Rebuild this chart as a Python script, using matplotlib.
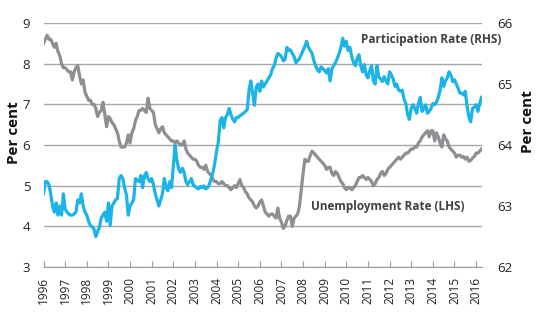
import numpy as np
import matplotlib.pyplot as plt

plt.rcParams['font.family'] = ['Open Sans', 'DejaVu Sans']

# monthly observations, Jan 1996 onwards
unemployment = [
    8.5, 8.6, 8.7, 8.6, 8.6, 8.5, 8.4, 8.5, 8.3, 8.2, 8.0, 7.9,          # 1996
    7.9, 7.85, 7.8, 7.8, 7.6, 7.8, 7.9, 7.95, 7.7, 7.5, 7.6, 7.3,       # 1997
    7.2, 7.1, 7.1, 7.0, 7.0, 6.9, 6.7, 6.8, 6.85, 7.05, 6.75, 6.45,     # 1998
    6.7, 6.65, 6.55, 6.5, 6.4, 6.3, 6.1, 5.95, 5.95, 5.95, 6.05, 6.25,  # 1999
    6.05, 6.3, 6.4, 6.6, 6.7, 6.85, 6.85, 6.9, 6.85, 6.8, 7.15, 6.9,    # 2000
    6.85, 6.8, 6.5, 6.4, 6.3, 6.4, 6.45, 6.3, 6.25, 6.2, 6.15, 6.1,     # 2001
    6.1, 6.05, 6.1, 6.05, 6.0, 6.0, 6.1, 5.9, 5.8, 5.75, 5.7, 5.65,     # 2002
    5.65, 5.6, 5.5, 5.45, 5.45, 5.4, 5.5, 5.35, 5.3, 5.25, 5.15, 5.1,   # 2003
    5.1, 5.05, 5.05, 5.1, 5.05, 5.0, 5.0, 4.95, 4.9, 4.95, 5.0, 4.95,   # 2004
    5.05, 5.15, 5.0, 4.95, 4.85, 4.8, 4.7, 4.65, 4.6, 4.5, 4.45, 4.5,   # 2005
    4.6, 4.65, 4.5, 4.35, 4.3, 4.25, 4.3, 4.3, 4.25, 4.2, 4.45, 4.2,    # 2006
    4.1, 3.95, 4.0, 4.15, 4.25, 4.25, 4.0, 4.2, 4.25, 4.3, 4.5, 4.9,    # 2007
    5.3, 5.65, 5.6, 5.6, 5.75, 5.85, 5.8, 5.75, 5.7, 5.65, 5.6, 5.55,   # 2008
    5.5, 5.4, 5.45, 5.45, 5.3, 5.25, 5.35, 5.3, 5.2, 5.1, 5.05, 4.95,   # 2009
    4.9, 4.95, 4.95, 4.9, 4.95, 5.0, 5.1, 5.2, 5.2, 5.25, 5.2, 5.15,    # 2010
    5.2, 5.15, 5.1, 5.0, 5.05, 5.15, 5.2, 5.3, 5.35, 5.25, 5.3, 5.4,    # 2011
    5.45, 5.5, 5.55, 5.6, 5.65, 5.7, 5.65, 5.7, 5.75, 5.8, 5.8, 5.85,   # 2012
    5.9, 5.9, 5.95, 5.95, 6.05, 6.1, 6.2, 6.25, 6.3, 6.35, 6.2, 6.35,   # 2013
    6.35, 6.1, 6.3, 6.2, 6.05, 5.95, 6.25, 6.15, 6.1, 5.95, 5.9, 5.85,  # 2014
    5.8, 5.7, 5.75, 5.75, 5.7, 5.72, 5.65, 5.7, 5.6, 5.62, 5.68, 5.72,  # 2015
    5.8, 5.8, 5.85, 5.9,                                                # 2016
]

participation = [
    63.2, 63.4, 63.4, 63.35, 63.2, 63.0, 62.9, 63.05, 62.85, 63.0, 62.85, 63.2,        # 1996
    62.95, 62.9, 62.87, 62.85, 62.85, 62.87, 62.9, 63.1, 63.05, 63.2, 63.0, 62.9,      # 1997
    62.85, 62.75, 62.68, 62.66, 62.62, 62.5, 62.58, 62.65, 62.8, 62.85, 62.9, 62.75,   # 1998
    63.05, 62.68, 63.0, 63.05, 63.1, 63.12, 63.45, 63.5, 63.45, 63.3, 63.18, 62.85,    # 1999
    63.0, 63.05, 63.1, 63.45, 63.42, 63.4, 63.5, 63.3, 63.5, 63.55, 63.45, 63.4,       # 2000
    63.45, 63.35, 63.2, 63.1, 63.0, 63.1, 63.2, 63.45, 63.3, 63.25, 63.4, 63.3,        # 2001
    63.65, 64.0, 63.75, 63.6, 63.55, 63.62, 63.55, 63.4, 63.35, 63.4, 63.45, 63.35,    # 2002
    63.32, 63.3, 63.28, 63.32, 63.3, 63.33, 63.28, 63.3, 63.35, 63.45, 63.55, 63.7,    # 2003
    63.9, 64.05, 64.4, 64.45, 64.28, 64.45, 64.5, 64.6, 64.5, 64.42, 64.38, 64.45,     # 2004
    64.45, 64.48, 64.5, 64.52, 64.55, 64.58, 64.9, 65.05, 64.85, 64.65, 64.95, 65.0,   # 2005
    64.88, 65.05, 64.95, 65.0, 65.05, 65.1, 65.15, 65.25, 65.3, 65.42, 65.5, 65.48,    # 2006
    65.45, 65.38, 65.4, 65.6, 65.55, 65.56, 65.5, 65.45, 65.35, 65.38, 65.42, 65.48,   # 2007
    65.55, 65.62, 65.7, 65.6, 65.55, 65.5, 65.38, 65.3, 65.23, 65.2, 65.28, 65.25,     # 2008
    65.22, 65.18, 65.25, 65.05, 65.25, 65.3, 65.35, 65.42, 65.5, 65.6, 65.75, 65.62,   # 2009
    65.7, 65.55, 65.6, 65.45, 65.35, 65.3, 65.42, 65.48, 65.3, 65.2, 65.32, 65.15,     # 2010
    65.1, 65.22, 65.3, 65.05, 65.0, 65.3, 65.12, 65.08, 65.04, 65.12, 65.05, 65.0,     # 2011
    65.2, 65.15, 65.08, 64.96, 65.0, 64.9, 64.88, 64.9, 64.75, 64.68, 64.5, 64.42,     # 2012
    64.6, 64.66, 64.6, 64.52, 64.68, 64.78, 64.55, 64.6, 64.66, 64.52, 64.55, 64.6,    # 2013
    64.68, 64.66, 64.7, 64.78, 64.9, 65.1, 64.96, 65.05, 65.1, 65.2, 65.15, 65.04,     # 2014
    65.07, 65.0, 64.93, 64.85, 64.85, 64.82, 64.88, 64.63, 64.46, 64.38, 64.6, 64.62,  # 2015
    64.66, 64.55, 64.68, 64.78,                                                        # 2016
]

years = list(range(1996, 2017))
months = 1996 + np.arange(len(unemployment)) / 12.0

grey = '#8e8f92'
blue = '#1cb4e8'
text_col = '#404040'

fig = plt.figure(figsize=(5.4, 3.23), dpi=100)
ax = fig.add_axes([0.0806, 0.1734, 0.8111, 0.7554])
ax2 = ax.twinx()

ax.plot(months, unemployment, color=grey, lw=2.3, solid_joinstyle='round')
ax2.plot(months, participation, color=blue, lw=2.3, solid_joinstyle='round')

ax.set_xlim(1996, months[-1])
ax.set_ylim(3, 9)
ax2.set_ylim(62, 66)
ax.set_yticks(range(3, 10))
ax2.set_yticks(range(62, 67))
ax.set_xticks(years)
ax.set_xticklabels([str(y) for y in years], rotation=90, fontsize=8.5, color='#222222')

for a in (ax, ax2):
    for s in ('top', 'left', 'right', 'bottom'):
        a.spines[s].set_visible(False)
ax.spines['bottom'].set_visible(True)
ax.spines['bottom'].set_color('#9a9a9a')

ax.grid(axis='y', color='#a6a6a6', lw=1.0)
ax.set_axisbelow(True)
ax.tick_params(axis='y', length=0, pad=9.5, labelsize=9.5, labelcolor='#222222')
ax2.tick_params(axis='y', length=0, pad=11, labelsize=9.5, labelcolor='#222222')
ax.tick_params(axis='x', direction='in', length=4, color='#9a9a9a', pad=7)

# axis titles placed directly on the figure
fig.text(14 / 540, 1 - 133 / 323, 'Per cent', rotation=90, ha='center', va='center',
         fontsize=11, fontweight='bold', color='#111111')
fig.text(528 / 540, 1 - 122 / 323, 'Per cent', rotation=90, ha='center', va='center',
         fontsize=11, fontweight='bold', color='#111111')

ax.text(2013.9, 8.6, 'Participation Rate (RHS)', ha='center', va='center',
        fontsize=8.5, fontweight='bold', color=text_col)
ax.text(2011.9, 4.48, 'Unemployment Rate (LHS)', ha='center', va='center',
        fontsize=8.5, fontweight='bold', color=text_col)

fig.savefig('out.png', dpi=100)
